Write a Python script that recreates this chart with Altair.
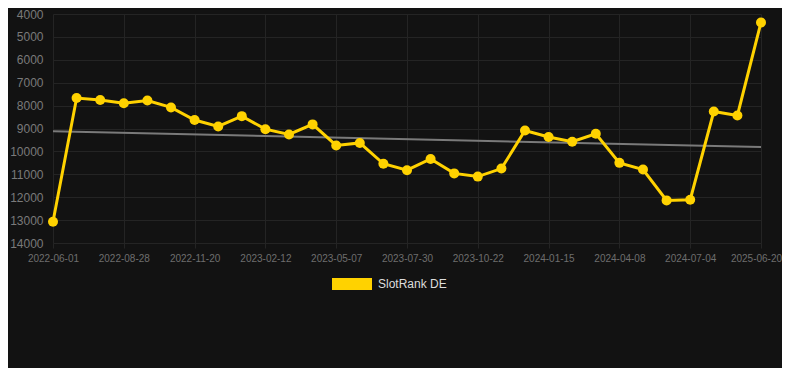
import altair as alt
import pandas as pd

dates = [
    "2022-06-01", "2022-06-30", "2022-07-30", "2022-08-28", "2022-09-25",
    "2022-10-23", "2022-11-20", "2022-12-18", "2023-01-15", "2023-02-12",
    "2023-03-12", "2023-04-09", "2023-05-07", "2023-06-04", "2023-07-02",
    "2023-07-30", "2023-08-27", "2023-09-24", "2023-10-22", "2023-11-19",
    "2023-12-18", "2024-01-15", "2024-02-12", "2024-03-11", "2024-04-08",
    "2024-05-06", "2024-06-04", "2024-07-04", "2024-10-15", "2025-02-10",
    "2025-06-20",
]
rank = [
    13070, 7670, 7755, 7900, 7780, 8080, 8630, 8910, 8460, 9030,
    9260, 8820, 9740, 9630, 10540, 10820, 10330, 10960, 11100, 10750,
    9090, 9370, 9580, 9230, 10500, 10790, 12140, 12110, 8260, 8430,
    4370,
]
trend_dates = [dates[0], dates[-1]]
trend_values = [9120, 9810]
tick_dates = dates[::3]
y_ticks = list(range(4000, 14001, 1000))
series_name = "SlotRank DE"

YELLOW = "#FFD200"
BG = "#121212"
GRID = "#242424"

df = pd.DataFrame({"date": dates, "rank": rank, "series": [series_name] * len(dates)})
tdf = pd.DataFrame({"date": trend_dates, "rank": trend_values})

last_label = tick_dates[-1]

x = alt.X(
    "date:O",
    sort=None,
    scale=alt.Scale(type="point", padding=0, domain=dates),
    axis=alt.Axis(
        values=tick_dates, labelAngle=0, title=None, grid=True, gridColor=GRID,
        ticks=True, tickColor=GRID, tickSize=5, domain=True, domainColor=GRID,
        labelColor="#6e6e6e", labelFontSize=10, labelFont="Liberation Sans",
        labelPadding=5,
        labelOffset={"condition": {"test": f"datum.value == '{last_label}'", "value": -5}, "value": 0},
    ),
)
y = alt.Y(
    "rank:Q",
    scale=alt.Scale(domain=[4000, 14000], reverse=True, nice=False, zero=False),
    axis=alt.Axis(
        values=y_ticks, title=None, grid=True, gridColor=GRID, ticks=False,
        domain=False, labelColor="#7a7a7a", labelFontSize=12, format="d",
        labelFont="Liberation Sans", labelPadding=10,
    ),
)

color = alt.Color(
    "series:N",
    scale=alt.Scale(domain=[series_name], range=[YELLOW]),
    legend=alt.Legend(
        title=None, orient="none", legendX=279, legendY=250,
        symbolType="M-1,-0.3L1,-0.3L1,0.3L-1,0.3Z", symbolSize=1600,
        symbolFillColor=YELLOW, symbolStrokeWidth=0, symbolOpacity=1,
        labelColor="#dddddd", labelFontSize=12, labelFont="Liberation Sans",
        labelOffset=6, padding=0,
    ),
)

trend = alt.Chart(tdf).mark_line(color="#7a7a7a", strokeWidth=2).encode(x=x, y=y)
line = alt.Chart(df).mark_line(strokeWidth=3).encode(x=x, y=y, color=color)
points = alt.Chart(df).mark_circle(size=100, opacity=1).encode(x=x, y=y, color=color)

chart = (
    alt.layer(trend, line, points)
    .properties(
        width=708, height=229,
        autosize=alt.AutoSizeParams(type="none"),
        padding={"left": 45, "top": 6, "right": 21, "bottom": 125},
        background=BG,
    )
    .configure_view(stroke=None)
)

chart.save("out.html", embed_options={"renderer": "svg", "actions": False})
